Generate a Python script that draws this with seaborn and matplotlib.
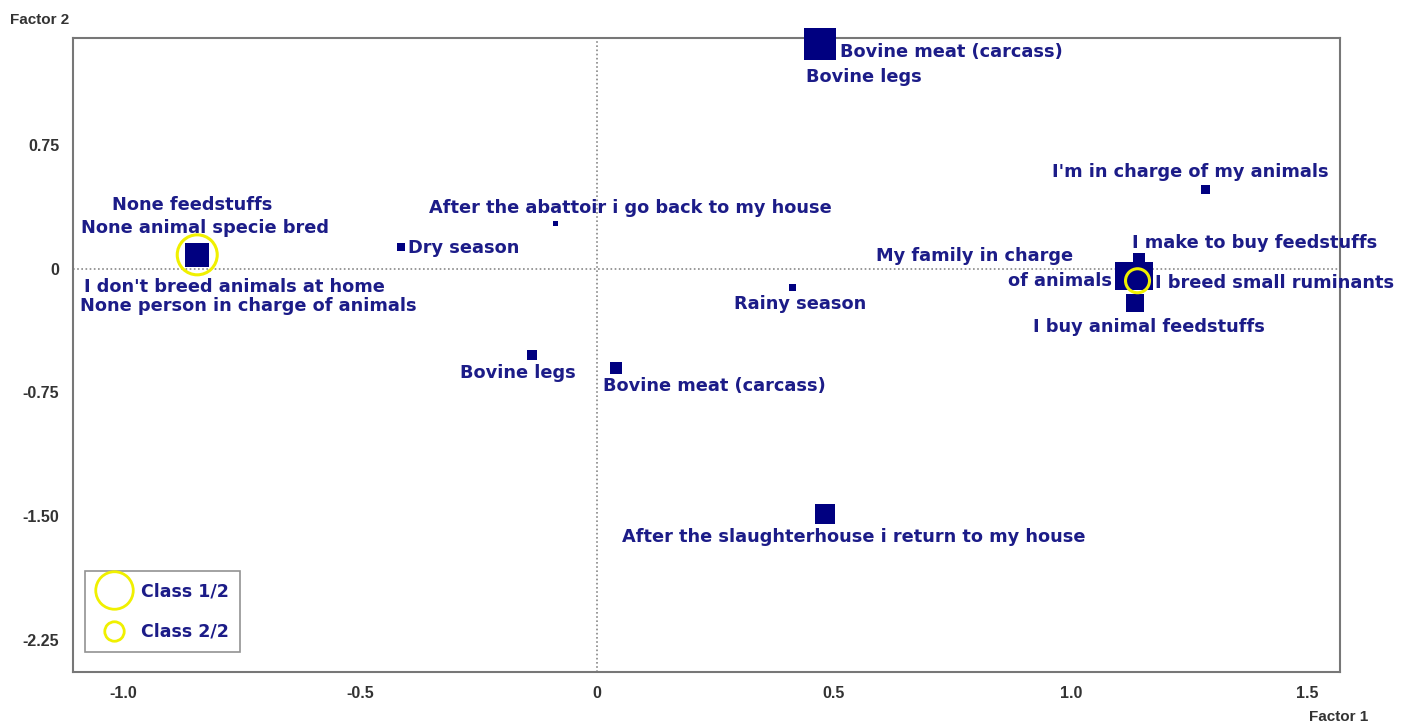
import pandas as pd
import matplotlib.pyplot as plt
from matplotlib.lines import Line2D
import seaborn as sns

# Category coordinates on the first two factors
labels = [
    "Bovine meat (carcass)", "Bovine legs", "I'm in charge of my animals",
    "I make to buy feedstuffs", "My family in charge", "of animals",
    "I breed small ruminants", "I buy animal feedstuffs",
    "After the abattoir i go back to my house",
    "None feedstuffs", "None animal specie bred",
    "I don't breed animals at home", "None person in charge of animals",
    "Dry season", "Rainy season", "Bovine legs", "Bovine meat (carcass)",
    "After the slaughterhouse i return to my house",
]
factor1 = [0.472, 0.472, 1.284, 1.145, 1.124, 1.124, 1.145, 1.135, -0.087,
           -0.843, -0.843, -0.843, -0.843, -0.412, 0.412, -0.136, 0.041, 0.482]
factor2 = [1.362, 1.362, 0.477, 0.059, -0.044, -0.044, -0.044, -0.207, 0.271,
           0.083, 0.083, 0.083, 0.083, 0.132, -0.117, -0.523, -0.602, -1.486]
mass = [32, 32, 9, 12, 28, 28, 28, 18, 5, 24, 24, 24, 24, 8, 7, 10, 12, 20]

# Class centres
class_names = ["Class 1/2", "Class 2/2"]
class_f1 = [-0.843, 1.141]
class_f2 = [0.083, -0.074]

x_ticks = [-1.0, -0.5, 0, 0.5, 1.0, 1.5]
x_tick_labels = ["-1.0", "-0.5", "0", "0.5", "1.0", "1.5"]
y_ticks = [0.75, 0, -0.75, -1.50, -2.25]
y_tick_labels = ["0.75", "0", "-0.75", "-1.50", "-2.25"]

# label placement: offset in pixels from the point (dx right, dy down), alignment
label_offsets = [
    (20, 8, "left"), (-14, 33, "left"), (-15, -18, "center"),
    (-7, -16, "left"), (-56, -20, "right"), (-17, 5, "right"),
    (16, 7, "left"), (14, 24, "center"), (75, -16, "center"),
    (-5, -50, "center"), (8, -27, "center"), (37, 32, "center"), (51, 51, "center"),
    (7, 1, "left"), (8, 16, "center"), (-14, 18, "center"), (-13, 18, "left"),
    (-203, 23, "left"),
]

navy = "#000080"
text_navy = "#1c1c88"
yellow = "#f0f000"
grey = "#777777"


def main():
    sns.set_style("white")
    plt.rcParams["font.family"] = ["DejaVu Sans"]

    df = pd.DataFrame({"label": labels, "f1": factor1, "f2": factor2, "mass": mass})
    size_map = {m: (m * 0.72) ** 2 for m in set(mass)}

    fig = plt.figure(figsize=(14.05, 7.25), dpi=100)
    ax = fig.add_axes([0.052, 0.073, 0.902, 0.875])

    ax.axhline(0, color="#888888", ls=(0, (1, 1.5)), lw=1.2, zorder=0)
    ax.axvline(0, color="#888888", ls=(0, (1, 1.5)), lw=1.2, zorder=0)

    sns.scatterplot(data=df, x="f1", y="f2", size="mass", sizes=size_map,
                    marker="s", color=navy, edgecolor=navy, linewidth=0,
                    legend=False, ax=ax, clip_on=False, zorder=3)

    cls = pd.DataFrame({"cls": class_names, "f1": class_f1, "f2": class_f2})
    sns.scatterplot(data=cls, x="f1", y="f2", size="cls",
                    sizes={"Class 1/2": (40 * 0.72) ** 2, "Class 2/2": (24 * 0.72) ** 2},
                    marker="o", facecolor="none", edgecolor=yellow, linewidth=2.2,
                    legend=False, ax=ax, zorder=4)

    for (lab, x, y), (dx, dy, ha) in zip(zip(labels, factor1, factor2), label_offsets):
        ax.annotate(lab, (x, y), xytext=(dx, -dy), textcoords="offset pixels",
                    ha=ha, va="center", fontsize=12.8, fontweight="bold",
                    color=text_navy, zorder=5)

    ax.set_xlim(-1.105, 1.569)
    ax.set_ylim(-2.444, 1.398)
    ax.set_xticks(x_ticks)
    ax.set_xticklabels(x_tick_labels)
    ax.set_yticks(y_ticks)
    ax.set_yticklabels(y_tick_labels)
    ax.set_xlabel("")
    ax.set_ylabel("")
    ax.tick_params(axis="both", direction="out", length=4, width=1, color=grey,
                   labelsize=11.5, labelcolor="#333333", pad=6)
    for t in ax.get_xticklabels() + ax.get_yticklabels():
        t.set_fontweight("bold")
        t.set_family("Liberation Sans")
    for sp in ax.spines.values():
        sp.set_color(grey)
        sp.set_linewidth(1.5)

    fig.text(0.007, 0.972, "Factor 2", fontsize=11, fontweight="bold",
             color="#333333", va="center", family="Liberation Sans")
    fig.text(0.932, 0.011, "Factor 1", fontsize=11, fontweight="bold",
             color="#333333", va="center", family="Liberation Sans")

    handles = [
        Line2D([], [], ls="none", marker="o", markersize=27, markerfacecolor="none",
               markeredgecolor=yellow, markeredgewidth=2),
        Line2D([], [], ls="none", marker="o", markersize=14, markerfacecolor="none",
               markeredgecolor=yellow, markeredgewidth=2),
    ]
    leg = ax.legend(handles, class_names, loc="lower left", bbox_to_anchor=(0.0095, 0.0315),
                    borderaxespad=0, frameon=True, fancybox=False, edgecolor=grey,
                    borderpad=0.65, handlelength=2.0, handletextpad=0.55, labelspacing=1.3,
                    prop={"size": 12.5, "weight": "bold"})
    leg.get_frame().set_linewidth(1.2)
    for t in leg.get_texts():
        t.set_color(text_navy)

    fig.savefig("out.png", dpi=100, facecolor="white")


if __name__ == "__main__":
    main()
